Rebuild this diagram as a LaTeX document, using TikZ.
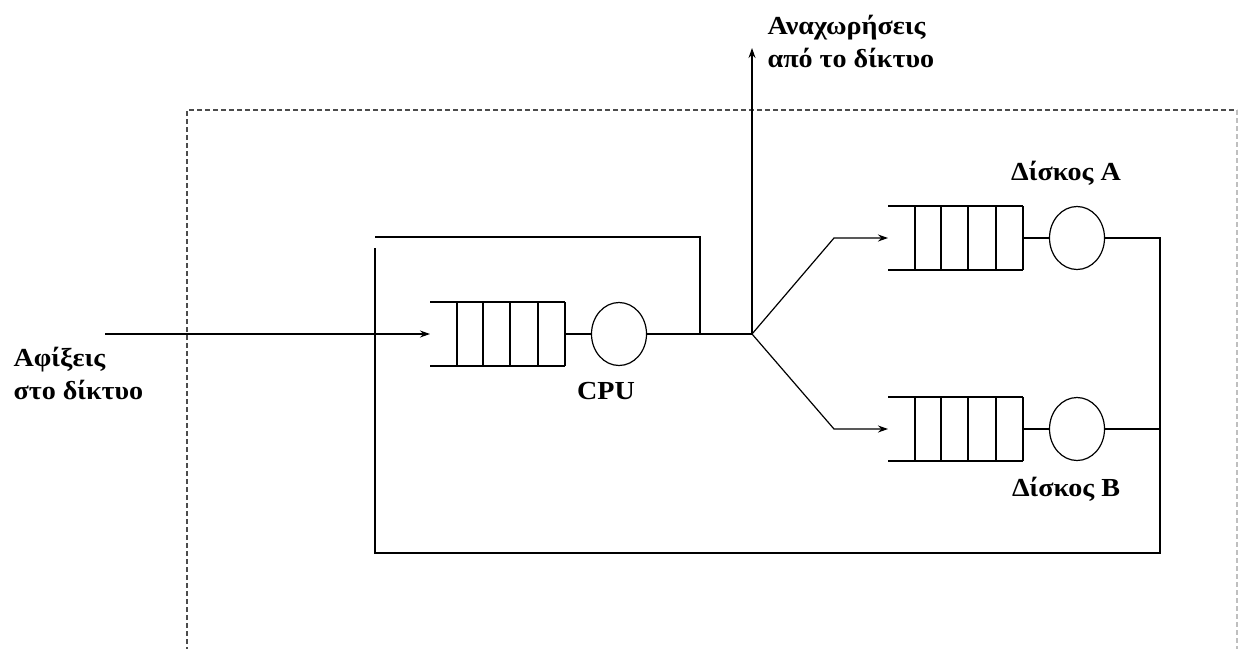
\documentclass[tikz,border=0pt]{standalone}
\usepackage{fontspec}
\setmainfont[FakeStretch=1.08]{Liberation Serif}
\usetikzlibrary{arrows.meta,shapes.geometric}
\begin{document}
\begin{tikzpicture}[x=1pt, y=-1pt, line width=1.2pt,
  server/.style={draw, ellipse, minimum width=55pt, minimum height=63pt, inner sep=0pt},
  lbl/.style={font=\bfseries\fontsize{26}{33}\selectfont, align=left, inner sep=0pt},
  arr/.style={-{Stealth[length=10pt,width=7pt]}},
  frame/.style={draw=black!70, dash pattern=on 5pt off 3pt, line width=1.2pt},
  queue/.pic={
    \draw (0,-32) -- (135,-32) (0,32) -- (135,32);
    \foreach \k in {27,53,80,108,135} \draw (\k,-32) -- (\k,32);
  }]
\useasboundingbox (0,0) rectangle (1238,648);

% subsystem boundary
\draw[frame] (187,660) -- (187,110) -- (1237,110);
\draw[frame, draw=black!25] (1237,110) -- (1237,660);

% queues and servers
\pic at (430,334) {queue};
\pic at (888,238) {queue};
\pic at (888,429) {queue};
\coordinate (qcpuin) at (430,334);  \coordinate (qcpuout) at (565,334);
\coordinate (qain) at (888,238);    \coordinate (qaout) at (1023,238);
\coordinate (qbin) at (888,429);    \coordinate (qbout) at (1023,429);
\node[server] (cpu) at (619,334) {};
\node[server] (diska) at (1077,238) {};
\node[server] (diskb) at (1077,429) {};

% routing points
\coordinate (src) at (105,334);
\coordinate (split) at (752,334);
\coordinate (exit) at (752,48);
\coordinate (tap) at (700,334);
\coordinate (tapTop) at (700,237);
\coordinate (loopTL) at (375,237);
\coordinate (loopL) at (375,248);
\coordinate (loopBL) at (375,553);
\coordinate (loopBR) at (1160,553);
\coordinate (loopTR) at (1160,238);
\coordinate (loopMR) at (1160,429);
\coordinate (upA) at (834,238);
\coordinate (dnB) at (834,429);

% connectors
\draw[arr] (src) -- (qcpuin);
\draw (qcpuout) -- (cpu.west);
\draw (cpu.east) -- (split);
\draw[arr] (split) -- (exit);
\draw (tap) -- (tapTop) -- (loopTL);
\draw[arr] (split) -- (upA) -- (qain);
\draw[arr] (split) -- (dnB) -- (qbin);
\draw (qaout) -- (diska.west);
\draw (qbout) -- (diskb.west);
\draw (diska.east) -- (loopTR) -- (loopBR) -- (loopBL) -- (loopL);
\draw (diskb.east) -- (loopMR);
\draw[line width=2.8pt] (375,335) -- (375,343);

% labels
\node[lbl, anchor=north west] (lout) at (767,15) {Αναχωρήσεις\\από το δίκτυο};
\node[lbl, anchor=north west] (lin) at (13,347) {Αφίξεις\\στο δίκτυο};
\node[lbl, anchor=base] (lcpu) at (606,399) {CPU};
\node[lbl, anchor=base] (la) at (1066,180) {Δίσκος Α};
\node[lbl, anchor=base] (lb) at (1066,496) {Δίσκος Β};
\end{tikzpicture}
\end{document}
